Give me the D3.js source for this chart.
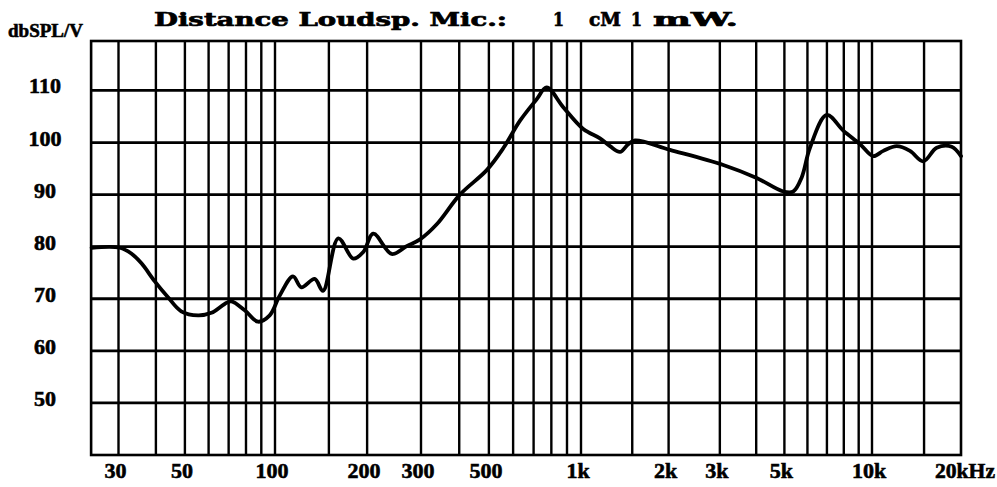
<!DOCTYPE html>
<html><head><meta charset="utf-8">
<script src="https://cdn.jsdelivr.net/npm/d3@7"></script>
<style>html,body{margin:0;padding:0;background:#fff;}svg{display:block;}</style>
</head><body>
<svg id="chart" width="997" height="487"></svg>
<script>
// ---- data ----
const freqHz = [24.4,30.3,33.1,35.8,39.6,43.9,48.6,55.3,61.3,67.9,71.4,79.2,87.7,96.0,103.6,114.5,121.9,134.8,143.5,
  161,180.3,194.3,209.6,240.6,269.4,297.8,337.7,402,492,557,632,716,772,875,1018,1162,
  1258,1361,1454,1533,2022,3083,4016,4958,5365,5733,6122,6987,7967,9093,10100,10920,12120,13440,14910,16550,18600,20000];
const splDb = [79.8,79.8,78.7,76.8,73.4,70.3,67.6,66.8,67.3,69.0,69.5,67.8,65.6,66.8,70.6,74.3,72.2,73.8,71.5,
  81.6,77.7,79.0,82.5,78.6,80.1,81.4,84.3,90.0,94.7,98.9,104.2,108.3,110.6,106.8,102.6,100.8,
  99.3,98.2,99.7,100.4,98.6,95.7,93.2,90.6,90.6,93.3,99.0,105.3,102.3,99.7,97.4,98.4,99.3,98.4,96.4,99.0,99.2,97.4];
const gridFreqs = [30,40,50,60,70,80,90,100,150,200,300,400,500,600,700,800,900,1000,1500,2000,3000,4000,5000,6000,7000,8000,9000,10000,15000];
const xTickValues = [30,50,100,200,300,500,1000,2000,3000,5000,10000];
const xTickLabels = ["30","50","100","200","300","500","1k","2k","3k","5k","10k"];
const lastTickValue = 20000, lastTickLabel = "20kHz";
const yTickValues = [50,60,70,80,90,100,110];
const yTickLabels = ["50","60","70","80","90","100","110"];
const titleParts = [
  {text:"Distance Loudsp. Mic.:", x0:154, x1:507},
  {text:"1", x0:553, x1:564},
  {text:"cM", x0:589, x1:621},
  {text:"1", x0:631, x1:642},
  {text:"mW.", x0:653, x1:738}
];
const yUnit = "dbSPL/V";

// ---- scales ----
const fMin = 24.3, fMax = 20000, dbMin = 40, dbMax = 119.5;
const x = d3.scaleLog().domain([30,100,1000,10000,20000]).range([118.5,275,581,872,961]);
const y = d3.scaleLinear().domain([dbMin, dbMax]).range([455, 41]);

const svg = d3.select("#chart");
const serif = "'Liberation Serif','DejaVu Serif',serif";

// grid
const g = svg.append("g");
g.selectAll("line.v").data(gridFreqs).join("line")
  .attr("x1", d=>x(d)).attr("x2", d=>x(d)).attr("y1", y(dbMax)).attr("y2", y(dbMin))
  .attr("stroke","#000").attr("stroke-width",2.4);
g.selectAll("line.h").data(yTickValues).join("line")
  .attr("x1", x(fMin)).attr("x2", x(fMax)).attr("y1", d=>y(d)).attr("y2", d=>y(d))
  .attr("stroke","#000").attr("stroke-width",2.8);
g.append("rect").attr("x", x(fMin)).attr("y", y(dbMax))
  .attr("width", x(fMax)-x(fMin)).attr("height", y(dbMin)-y(dbMax))
  .attr("fill","none").attr("stroke","#000").attr("stroke-width",2.6);

// curve
const line = d3.line().x((d,i)=>x(freqHz[i])).y((d,i)=>y(splDb[i])).curve(d3.curveCatmullRom.alpha(0.5));
svg.append("path").attr("d", line(freqHz)).attr("fill","none")
  .attr("stroke","#000").attr("stroke-width",3.8).attr("stroke-linejoin","round").attr("stroke-linecap","round");

// y tick labels
svg.selectAll("text.yt").data(yTickValues).join("text")
  .attr("x", 45).attr("y", d=>y(d)+3).attr("text-anchor","middle")
  .attr("font-family", serif).attr("font-weight","bold").attr("font-size",22)
  .attr("stroke","#000").attr("stroke-width",0.6)
  .text((d,i)=>yTickLabels[i]);

// x tick labels
svg.selectAll("text.xt").data(xTickValues).join("text")
  .attr("x", d=>x(d)-3).attr("y", 478).attr("text-anchor","middle")
  .attr("font-family", serif).attr("font-weight","bold").attr("font-size",22)
  .attr("stroke","#000").attr("stroke-width",0.6)
  .text((d,i)=>xTickLabels[i]);
svg.append("text").attr("x", x(lastTickValue)-26).attr("y",478)
  .attr("font-family", serif).attr("font-weight","bold").attr("font-size",22)
  .attr("stroke","#000").attr("stroke-width",0.6)
  .attr("textLength",60).attr("lengthAdjust","spacingAndGlyphs").text(lastTickLabel);

// unit label
svg.append("text").attr("x",8).attr("y",37)
  .attr("font-family", serif).attr("font-weight","bold").attr("font-size",19)
  .attr("stroke","#000").attr("stroke-width",0.6)
  .attr("textLength",75).attr("lengthAdjust","spacingAndGlyphs").text(yUnit);

// title
svg.selectAll("text.title").data(titleParts).join("text")
  .attr("x", d=>d.x0).attr("y", 26)
  .attr("font-family","'DejaVu Serif',serif").attr("font-weight","bold").attr("font-size",19)
  .attr("stroke","#000").attr("stroke-width",0.7)
  .attr("textLength", d=>d.x1-d.x0).attr("lengthAdjust","spacingAndGlyphs")
  .text(d=>d.text);
</script>
</body></html>
